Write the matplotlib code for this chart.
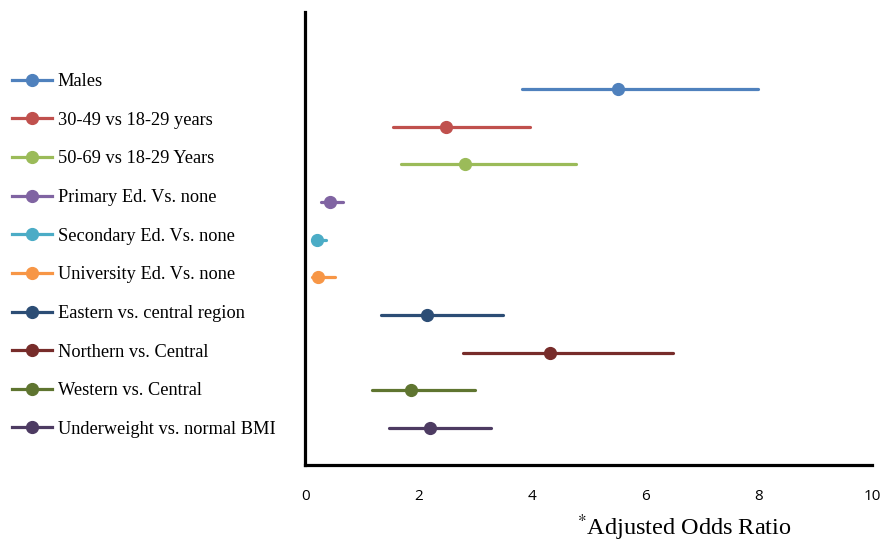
import matplotlib.pyplot as plt
from matplotlib.lines import Line2D

labels = ['Males', '30-49 vs 18-29 years', '50-69 vs 18-29 Years',
          'Primary Ed. Vs. none', 'Secondary Ed. Vs. none', 'University Ed. Vs. none',
          'Eastern vs. central region', 'Northern vs. Central', 'Western vs. Central',
          'Underweight vs. normal BMI']
odds = [5.52, 2.49, 2.82, 0.44, 0.21, 0.23, 2.15, 4.32, 1.86, 2.20]
lower = [3.82, 1.55, 1.69, 0.28, 0.14, 0.12, 1.33, 2.79, 1.17, 1.47]
upper = [7.99, 3.96, 4.78, 0.67, 0.36, 0.52, 3.48, 6.48, 3.00, 3.27]
colors = ['#4F81BD', '#C0504D', '#9BBB59', '#8064A2', '#4BACC6', '#F79646',
          '#2C4D75', '#772C2A', '#5F7530', '#4D3B62']

plt.rcParams['mathtext.fontset'] = 'stix'

fig = plt.figure(figsize=(8.82, 5.44), dpi=100)
ax = fig.add_axes([0.346, 0.145, 0.643, 0.833])

handles = []
for i, (lab, pt, lo, hi, c) in enumerate(zip(labels, odds, lower, upper, colors)):
    ax.plot([lo, hi], [i, i], color=c, lw=2.3, solid_capstyle='round')
    ax.plot(pt, i, 'o', color=c, ms=8.5)
    handles.append(Line2D([0], [0], color=c, lw=2.3, marker='o', ms=8.5, label=lab))

ax.set_xlim(0, 10)
ax.set_ylim(9.98, -2.04)
ax.set_xticks([0, 2, 4, 6, 8, 10])
ax.set_yticks([])
ax.tick_params(axis='x', length=0, pad=17, labelsize=11)
for t in ax.get_xticklabels():
    t.set_fontfamily('Open Sans')
for s in ['top', 'right']:
    ax.spines[s].set_visible(False)
for s in ['left', 'bottom']:
    ax.spines[s].set_linewidth(2.3)
    ax.spines[s].set_color('black')

fig.legend(handles=handles, loc='upper left', bbox_to_anchor=(0.005, 0.879),
           frameon=False, prop={'family': 'Liberation Serif', 'size': 13.2},
           handlelength=2.2, handletextpad=0.3, labelspacing=1.18, borderaxespad=0)

fig.text(0.776, 0.016, r'$^{*}$Adjusted Odds Ratio', ha='center', va='baseline',
         fontsize=17.5, fontfamily='Liberation Serif')

fig.savefig('out.png', dpi=100)
